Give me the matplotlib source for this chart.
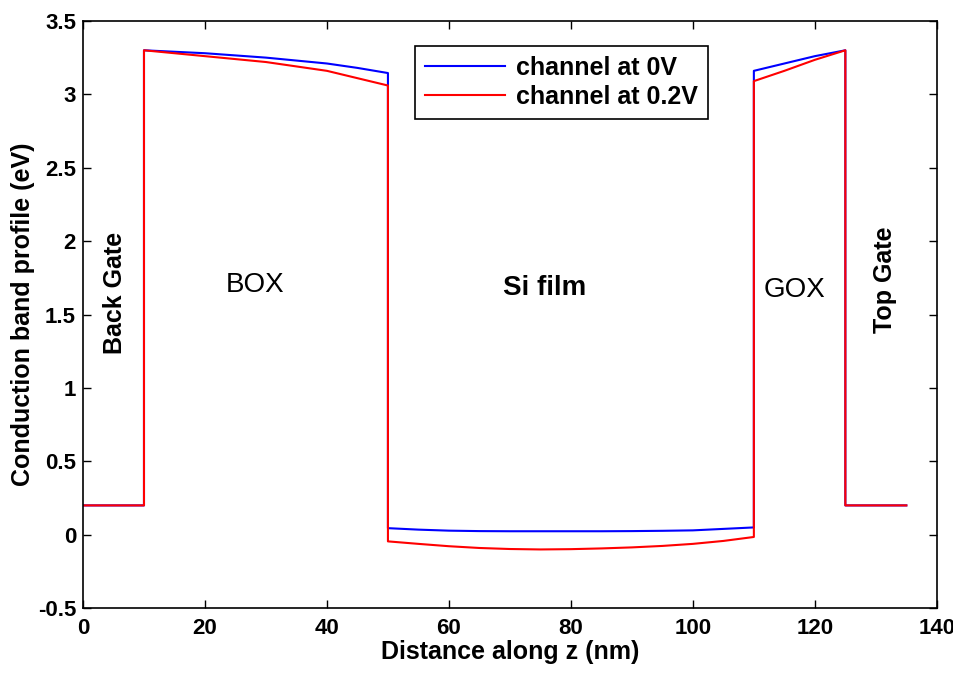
import matplotlib
matplotlib.use('Agg')
import matplotlib.pyplot as plt

# conduction band profile along z for two channel biases
z = [0, 10, 10, 15, 20, 25, 30, 35, 40, 45, 50, 50,
     55, 60, 65, 70, 75, 80, 85, 90, 95, 100, 105, 110, 110,
     115, 120, 125, 125, 135]
ec_0v = [0.2, 0.2, 3.30, 3.29, 3.28, 3.265, 3.25, 3.23, 3.21, 3.18, 3.145, 0.045,
         0.035, 0.028, 0.025, 0.024, 0.024, 0.024, 0.024, 0.025, 0.027, 0.03, 0.04, 0.05, 3.16,
         3.21, 3.26, 3.30, 0.2, 0.2]
ec_02v = [0.2, 0.2, 3.30, 3.28, 3.26, 3.24, 3.22, 3.19, 3.16, 3.11, 3.06, -0.045,
          -0.062, -0.078, -0.09, -0.097, -0.1, -0.098, -0.093, -0.086, -0.076, -0.062, -0.042, -0.015, 3.09,
          3.16, 3.235, 3.30, 0.2, 0.2]

regions = ['Back Gate', 'BOX', 'Si film', 'GOX', 'Top Gate']
yticks = [-0.5, 0, 0.5, 1, 1.5, 2, 2.5, 3, 3.5]
ytick_labels = ['-0.5', '0', '0.5', '1', '1.5', '2', '2.5', '3', '3.5']

font = ['Liberation Sans', 'DejaVu Sans']

fig = plt.figure(figsize=(9.54, 6.75), dpi=100)
ax = fig.add_axes([0.087, 0.099, 0.895, 0.870])

ax.plot(z, ec_0v, color='blue', lw=1.5, label='channel at 0V')
ax.plot(z, ec_02v, color='red', lw=1.5, label='channel at 0.2V')

ax.set_xlim(0, 140)
ax.set_ylim(-0.5, 3.5)
ax.set_xticks(range(0, 141, 20))
ax.set_yticks(yticks)
ax.set_yticklabels(ytick_labels)
ax.tick_params(direction='in', top=True, right=True, length=6, width=1)
ax.tick_params(axis='x', pad=7)
ax.tick_params(axis='y', pad=5)
for lab in ax.get_xticklabels() + ax.get_yticklabels():
    lab.set_family(font)
    lab.set_fontweight('bold')
    lab.set_fontsize(16)
for s in ax.spines.values():
    s.set_linewidth(1.2)

ax.set_xlabel('Distance along z (nm)', family=font, fontweight='bold', fontsize=18, labelpad=1)
ax.set_ylabel('Conduction band profile (eV)', family=font, fontweight='bold', fontsize=18, labelpad=2)

lg = ax.legend(loc='upper left', bbox_to_anchor=(0.389, 0.958), borderaxespad=0, fancybox=False,
               edgecolor='black', framealpha=1, handlelength=3.2, handletextpad=0.45,
               borderpad=0.4, labelspacing=0.2,
               prop={'family': font, 'weight': 'bold', 'size': 18})
lg.get_frame().set_linewidth(1.2)

txt = dict(family=font, ha='center', va='center')
ax.text(5.2, 1.65, regions[0], rotation=90, fontweight='bold', fontsize=18, **txt)
ax.text(28.2, 1.70, regions[1], fontsize=20, **txt)
ax.text(75.7, 1.68, regions[2], fontweight='bold', fontsize=20, **txt)
ax.text(116.7, 1.67, regions[3], fontsize=20, **txt)
ax.text(131.5, 1.74, regions[4], rotation=90, fontweight='bold', fontsize=18, **txt)

fig.savefig('out.png', dpi=100)
